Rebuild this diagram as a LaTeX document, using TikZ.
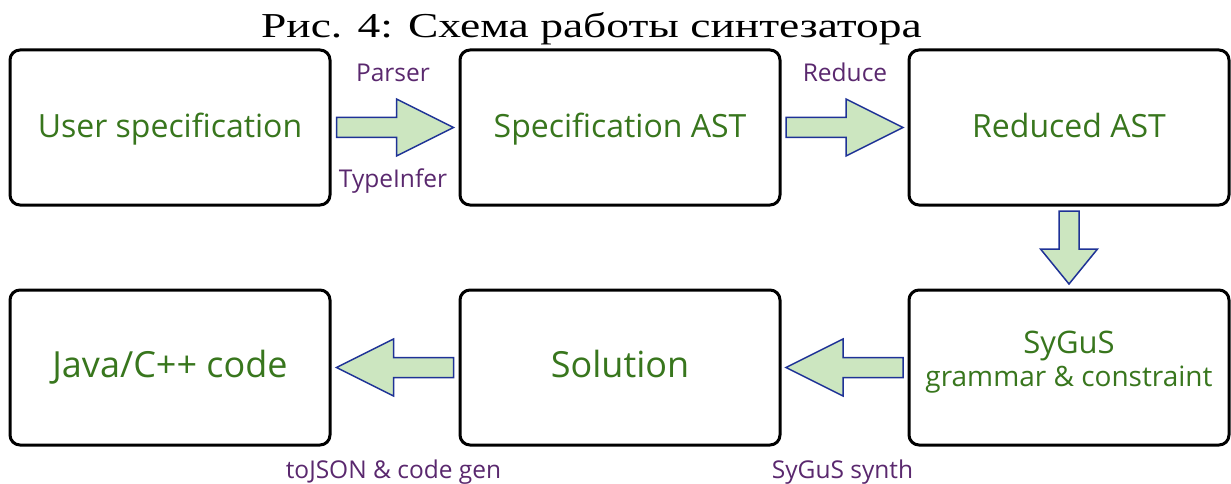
\documentclass[tikz,border=0pt]{standalone}
\usepackage{fontspec}
\setmainfont{Open Sans}
\newfontfamily\titlefont[FakeStretch=1.3]{Liberation Serif}
\usetikzlibrary{calc}
\definecolor{txtgreen}{RGB}{56,118,29}
\definecolor{lblpurple}{RGB}{90,40,110}
\definecolor{arrfill}{RGB}{204,230,192}
\definecolor{arrdraw}{RGB}{30,50,150}
\begin{document}
\begin{tikzpicture}[x=1pt,y=-1pt,
  box/.style={draw=black, line width=3pt, rounded corners=10pt, minimum width=320pt, minimum height=155pt, inner sep=0pt, text=txtgreen, font=\fontsize{32}{38}\selectfont, align=center, text height=29pt, text depth=8pt},
  bigbox/.style={box, font=\fontsize{36}{42}\selectfont, text height=30pt, text depth=10pt},
  boxtext/.style={inner sep=0pt, text=txtgreen, font=\fontsize{28}{33}\selectfont, align=center},
  lbl/.style={text=lblpurple, font=\fontsize{24.5}{29}\selectfont, inner sep=0pt, anchor=base},
  blockarrow/.style={draw=arrdraw, fill=arrfill, line width=1.5pt, line join=miter},
  pics/barrow/.style 2 args={code={
    \draw[blockarrow] (-#1/2,-10) -- (#1/2-#2,-10) -- (#1/2-#2,-28.5) -- (#1/2,0) -- (#1/2-#2,28.5) -- (#1/2-#2,10) -- (-#1/2,10) -- cycle;}}
]
\useasboundingbox (0,0) rectangle (1231,484);
\node[anchor=base, inner sep=0pt, font=\titlefont\fontsize{35}{42}\selectfont] (title) at (591.5,38) {Рис. 4: Схема работы синтезатора};
\node[box] (user) at (170,127.5) {User specification};
\node[box] (spec) at (620,127.5) {Specification AST};
\node[box] (red) at (1069,127.5) {Reduced AST};
\node[box] (sygus) at (1069,367.5) {};
\node[boxtext] (sygustext) at ([yshift=5pt]sygus.center) {{\fontsize{31}{33}\selectfont SyGuS}\\grammar \& constraint};
\node[bigbox] (sol) at (620,367.5) {Solution};
\node[bigbox] (java) at (170,367.5) {Java/C++ code};
\pic at ($(user.east)!0.5!(spec.west)$) {barrow={117}{57}};
\pic at ($(spec.east)!0.5!(red.west)$) {barrow={117}{57}};
\pic[rotate=-90] at ($(red.south)!0.5!(sygus.north)$) {barrow={73}{35}};
\pic[rotate=180] at ($(sygus.west)!0.5!(sol.east)$) {barrow={117}{57}};
\pic[rotate=180] at ($(sol.west)!0.5!(java.east)$) {barrow={117}{57}};
\node[lbl] (parser) at (393,82) {Parser};
\node[lbl] (typeinf) at (393,187) {TypeInfer};
\node[lbl] (reduce) at (845,82) {Reduce};
\node[lbl] (tojson) at (393.5,478) {toJSON \& code gen};
\node[lbl] (synth) at (842.5,478) {SyGuS synth};
\end{tikzpicture}
\end{document}
